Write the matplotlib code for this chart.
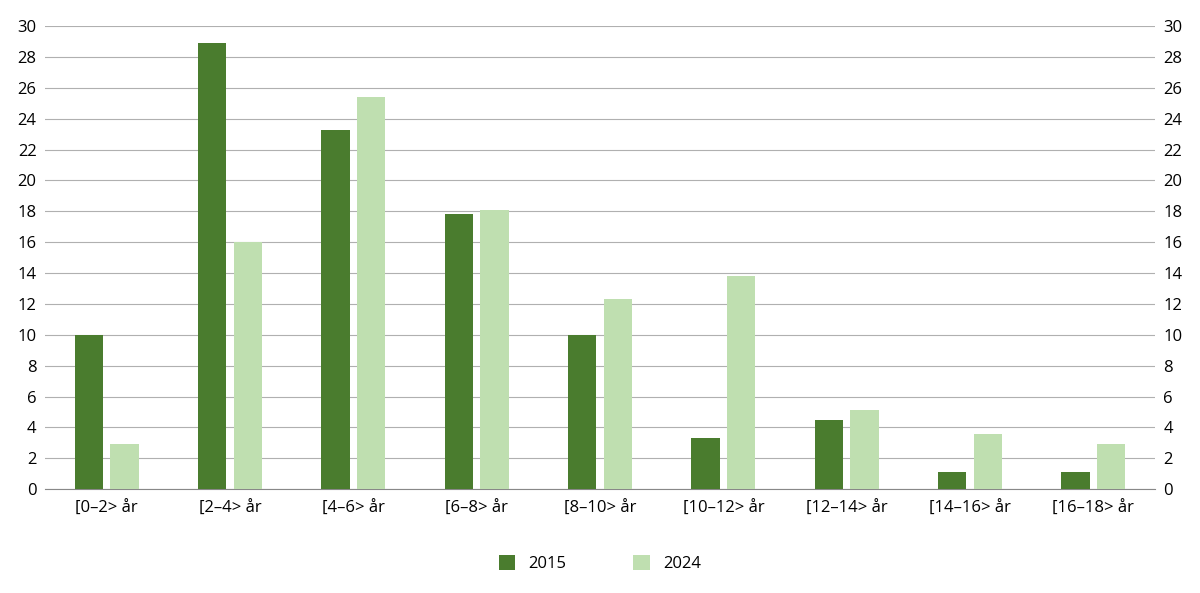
import matplotlib
matplotlib.use("Agg")
import matplotlib.pyplot as plt
import numpy as np

categories = ["[0–2> år", "[2–4> år", "[4–6> år", "[6–8> år", "[8–10> år",
              "[10–12> år", "[12–14> år", "[14–16> år", "[16–18> år"]
series_2015 = [10.0, 28.9, 23.3, 17.8, 10.0, 3.35, 4.5, 1.1, 1.1]
series_2024 = [2.9, 16.0, 25.4, 18.1, 12.3, 13.8, 5.1, 3.6, 2.9]
yticks = list(range(0, 31, 2))

plt.rcParams["font.family"] = "Open Sans"
fig = plt.figure(figsize=(12, 5.93), dpi=100)
ax = fig.add_axes([0.0375, 0.175, 0.925, 0.781])
x = np.arange(len(categories))
w = 0.23
ax.bar(x - 0.145, series_2015, w, color="#4a7c2e", label="2015", zorder=3)
ax.bar(x + 0.145, series_2024, w, color="#bfdfb0", label="2024", zorder=3)
ax.set_xlim(-0.5, len(categories) - 0.5)
ax.set_ylim(0, 30)
ax.set_yticks(yticks)
ax.set_xticks(x)
ax.set_xticklabels(categories, fontsize=12)
ax.grid(axis="y", color="#b0b0b0", linewidth=0.8, zorder=0)
for s in ax.spines.values():
    s.set_visible(False)
ax.spines["bottom"].set_visible(True)
ax.spines["bottom"].set_color("#888888")
ax.tick_params(axis="both", length=0, labelsize=12, pad=8)
ax.tick_params(axis="y", labelright=True, right=False, pad=6)
ax.legend(loc="upper center", bbox_to_anchor=(0.5, -0.11), ncol=2, frameon=False,
          fontsize=12, handlelength=1.0, handleheight=1.0, columnspacing=4)
fig.savefig("out.png")
